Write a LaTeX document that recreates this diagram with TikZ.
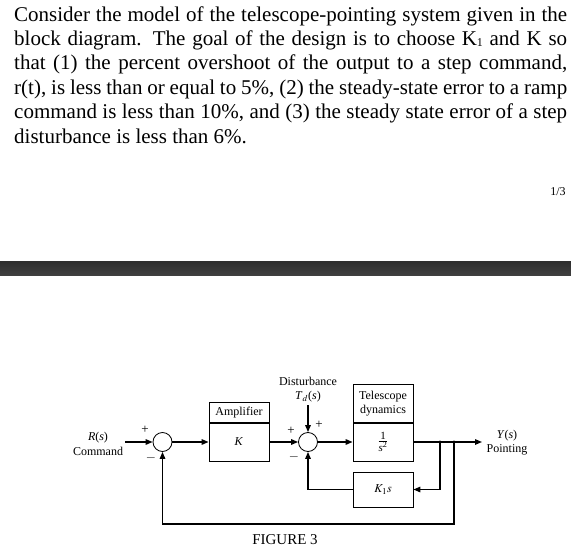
\documentclass[tikz,border=0pt]{standalone}
\usepackage{mathptmx}
\usepackage{fontspec}
\setmainfont{Liberation Serif}
\usetikzlibrary{arrows.meta,positioning}

\tikzset{
  sig/.style={line width=1.4pt, -{Triangle[length=7pt,width=5.5pt]}},
  blockbox/.style={draw, line width=0.8pt, minimum width=60pt, inner sep=0pt,
    font=\fontsize{12}{14}\selectfont, align=center},
  sumpt/.style={draw, circle, line width=0.8pt, minimum size=19pt, inner sep=0pt},
  lbl/.style={font=\fontsize{12}{14.5}\selectfont, inner sep=0pt, align=center},
  sgn/.style={font=\fontsize{13}{15}\selectfont, inner sep=0pt},
  txtline/.style={anchor=base west, inner sep=0pt, font=\fontsize{21}{24}\selectfont},
}

\begin{document}
\begin{tikzpicture}[x=1pt, y=-1pt]
        \useasboundingbox (0,0) rectangle (571,554);

        % problem statement
        \node[txtline] (line1) at (14,21) {\makebox[553pt][s]{Consider the model of the telescope-pointing system given in the}};
        \node[txtline] (line2) at (14,45.4) {\makebox[553pt][s]{block diagram. The goal of the design is to choose K{\fontsize{12}{14}\selectfont\raisebox{-1pt}{1}} and K so}};
        \node[txtline] (line3) at (14,69.8) {\makebox[553pt][s]{that (1) the percent overshoot of the output to a step command,}};
        \node[txtline] (line4) at (14,94.2) {\makebox[553pt][s]{r(t), is less than or equal to 5\%, (2) the steady-state error to a ramp}};
        \node[txtline] (line5) at (14,118.6) {\makebox[553pt][s]{command is less than 10\%, and (3) the steady state error of a step}};
        \node[txtline] (line6) at (14,143) {disturbance is less than 6\%.};
        \node[anchor=base, inner sep=0pt, font=\fontsize{12}{14}\selectfont] (pagenum) at (558,195) {1/3};

        % separator bar
        \shade[top color=black!82, middle color=black!62, bottom color=black!75] (0,261) rectangle (571,275);

        % summing points
        \node[sumpt] (sumA) at (162.5,442) {};
        \node[sumpt] (sumB) at (308,442) {};

        % blocks
        \node[blockbox, minimum height=38pt] (amp) at (239,442) {\textit{K}};
        \node[blockbox, minimum height=20pt, anchor=south] (amphead) at (amp.north) {Amplifier};
        \node[blockbox, minimum height=38pt, font=\fontsize{11}{13}\selectfont] (plant) at (383,442) {$\frac{\mbox{1}}{\mbox{\textit{s}\textsuperscript{2}}}$};
        \node[blockbox, minimum height=38pt, anchor=south] (planthead) at (plant.north) {Telescope\\dynamics};
        \node[blockbox, minimum height=35pt] (tacho) at (383,489.5) {$K_1 s$};

        % labels
        \node[lbl] (rlbl) at (98,444) {\textit{R}(\textit{s})\\Command};
        \node[lbl] (ylbl) at (507,442.5) {\textit{Y}(\textit{s})\\Pointing};
        \node[lbl] (dlbl) at (308,389.5) {Disturbance\\\textit{T}$_d$(\textit{s})};

        % free ends and branch points
        \coordinate (rstart) at (125,442);
        \coordinate (yout) at (482,442);
        \coordinate (dstart) at (308,405);
        \coordinate (br1) at (440,442);
        \coordinate (br2) at (454,442);
        \coordinate (loopcorner) at (454,524);

        % forward path
        \draw[sig] (rstart) -- (sumA.west);
        \draw[sig] (sumA.east) -- (amp.west);
        \draw[sig] (amp.east) -- (sumB.west);
        \draw[sig] (sumB.east) -- (plant.west);
        \draw[sig] (plant.east) -- (yout);
        \draw[sig] (dstart) -- (sumB.north);

        % feedback paths
        \draw[sig] (br1) |- (tacho.east);
        \draw[sig] (tacho.west) -| (sumB.south);
        \draw[sig] (br2) -- (loopcorner) -| (sumA.south);
        \fill (br1) circle (1.6pt);
        \fill (br2) circle (1.6pt);

        % signs
        \node[sgn] (sA1) at (145,430) {+};
        \node[sgn] (sA2) at (151,458) {$-$};
        \node[sgn] (sB1) at (291,431) {+};
        \node[sgn] (sB2) at (294,457) {$-$};
        \node[sgn] (sB3) at (319,425) {+};

        \node[anchor=base, inner sep=0pt, font=\fontsize{15}{18}\selectfont] (figlbl) at (285,544) {FIGURE 3};
\end{tikzpicture}
\end{document}
